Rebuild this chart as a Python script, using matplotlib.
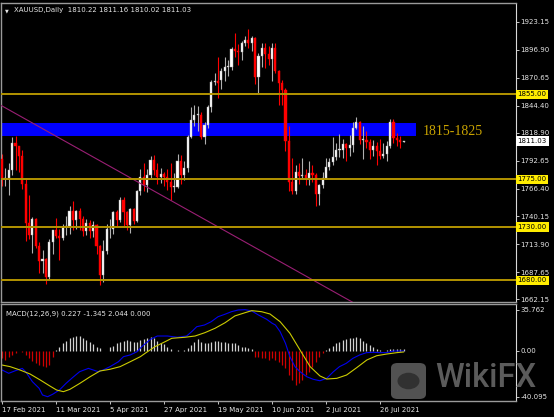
import numpy as np
import pandas as pd
import matplotlib
matplotlib.use("Agg")
import matplotlib.pyplot as plt
from matplotlib.patches import Rectangle, FancyBboxPatch, Circle
from matplotlib.transforms import blended_transform_factory

plt.rcParams["font.family"] = ["DejaVu Sans"]
plt.rcParams["font.size"] = 5

# ---- data ---------------------------------------------------------------
# daily XAUUSD candles, 17 Feb 2021 .. 4 Aug 2021 (Good Friday missing)
dates = pd.bdate_range("2021-02-17", "2021-08-04")
dates = dates[dates != pd.Timestamp("2021-04-02")]

opens = [1794, 1775, 1776, 1784, 1809, 1806, 1797, 1771,
         1734, 1723, 1738, 1712, 1698, 1700, 1683, 1716, 1727, 1722, 1720, 1730,
         1731, 1745, 1737, 1745, 1738, 1726, 1734, 1726, 1732, 1712, 1685,
         1708, 1728, 1728, 1744, 1737, 1756, 1744, 1732, 1747, 1736, 1764, 1777,
         1770, 1779, 1793, 1784, 1777, 1780, 1777, 1773, 1768,
         1768, 1792, 1779, 1786, 1815, 1831, 1836, 1836, 1815, 1826, 1843, 1867,
         1868, 1869, 1877, 1881, 1881, 1898, 1896, 1895, 1903,
         1906, 1903, 1908, 1871, 1891, 1899, 1893, 1888, 1899, 1877, 1866, 1859,
         1811, 1773, 1764, 1782, 1778, 1779, 1776, 1781, 1779, 1761,
         1770, 1776, 1787, 1791, 1796, 1803, 1803, 1808, 1805, 1807, 1823, 1829,
         1812, 1812, 1810, 1803, 1806, 1802, 1797, 1799, 1806, 1829,
         1814, 1812, 1810.22]
highs = [1799, 1786, 1790, 1815, 1816, 1806, 1803, 1776,
         1760, 1740, 1739, 1716, 1709, 1701, 1719, 1725, 1739, 1728, 1733, 1741,
         1750, 1755, 1746, 1748, 1741, 1738, 1737, 1736, 1733, 1713, 1718,
         1733, 1738, 1745, 1746, 1758, 1758, 1745, 1748, 1748, 1765, 1785,
         1790, 1785, 1797, 1798, 1790, 1786, 1782, 1785, 1790, 1781,
         1799, 1798, 1792, 1817, 1843, 1845, 1844, 1838, 1829, 1845, 1869, 1875,
         1890, 1880, 1890, 1887, 1900, 1913, 1902, 1905, 1910,
         1917, 1910, 1909, 1894, 1903, 1903, 1901, 1903, 1903, 1878, 1869, 1861,
         1825, 1795, 1789, 1790, 1795, 1785, 1792, 1789, 1781, 1771,
         1782, 1795, 1795, 1815, 1809, 1818, 1813, 1809, 1817, 1829, 1834, 1830,
         1825, 1821, 1813, 1812, 1810, 1813, 1809, 1811, 1832, 1832,
         1819, 1816, 1811.16]
lows = [1769, 1769, 1760, 1779, 1784, 1782, 1766, 1717,
        1719, 1706, 1710, 1687, 1687, 1677, 1681, 1705, 1720, 1699, 1718, 1723,
        1724, 1727, 1728, 1727, 1722, 1723, 1720, 1721, 1705, 1676, 1678,
        1705, 1720, 1724, 1731, 1735, 1731, 1727, 1725, 1733, 1735, 1760,
        1764, 1763, 1775, 1779, 1771, 1772, 1769, 1765, 1756, 1763,
        1767, 1771, 1774, 1782, 1814, 1825, 1821, 1813, 1808, 1823, 1838, 1864,
        1852, 1860, 1868, 1872, 1878, 1890, 1883, 1887, 1901,
        1899, 1896, 1865, 1855, 1881, 1880, 1883, 1868, 1875, 1845, 1845, 1802,
        1764, 1761, 1761, 1771, 1775, 1770, 1770, 1773, 1750, 1751,
        1767, 1775, 1784, 1789, 1793, 1796, 1795, 1792, 1797, 1801, 1822, 1808,
        1794, 1805, 1794, 1797, 1789, 1794, 1795, 1792, 1805, 1809,
        1806, 1805, 1810.02]
closes = [1775, 1776, 1784, 1809, 1806, 1797, 1771, 1734,
          1723, 1738, 1712, 1698, 1700, 1683, 1716, 1727, 1722, 1720, 1730, 1731,
          1745, 1737, 1745, 1738, 1726, 1734, 1726, 1732, 1712, 1685, 1708,
          1728, 1728, 1744, 1737, 1756, 1744, 1732, 1747, 1736, 1764, 1777,
          1770, 1779, 1793, 1784, 1777, 1780, 1777, 1773, 1768, 1768,
          1792, 1779, 1786, 1815, 1831, 1836, 1836, 1815, 1826, 1843, 1867, 1868,
          1866, 1877, 1881, 1881, 1898, 1896, 1895, 1903, 1906,
          1903, 1908, 1871, 1891, 1899, 1893, 1888, 1899, 1877, 1866, 1859, 1811,
          1773, 1764, 1782, 1778, 1779, 1776, 1781, 1779, 1761, 1770,
          1776, 1787, 1791, 1796, 1803, 1803, 1808, 1805, 1807, 1823, 1829, 1812,
          1812, 1810, 1803, 1806, 1802, 1797, 1799, 1806, 1829, 1814,
          1812, 1810, 1811.03]

levels = [1855, 1775, 1730, 1680]
zone = [1816, 1828]
zone_label = "1815-1825"
last_price = 1811.03
trend_idx = [0, 103.6]
trend_price = [1844.1, 1659.9]

price_ticks = [1923.15, 1896.90, 1870.65, 1844.40, 1818.90, 1792.65,
               1766.40, 1740.15, 1713.90, 1687.65, 1662.15]
date_labels = ["17 Feb 2021", "11 Mar 2021", "5 Apr 2021", "27 Apr 2021",
               "19 May 2021", "10 Jun 2021", "2 Jul 2021", "26 Jul 2021"]

# MACD panel
macd_idx = [0, 2, 4, 6, 7, 9, 11, 12, 13.5, 15, 17, 19, 21, 23, 25.6, 27, 28.5,
            30, 32, 34.5, 36, 38, 40, 41.4, 44, 46, 49, 52, 54.7, 56.2, 57.7, 60,
            62, 64, 66, 68, 70, 72, 74, 76, 78.4, 80, 81, 82.4, 84, 85.3, 86.8,
            88.3, 90.3, 92.2, 94.2, 96.2, 98.2, 100, 102, 104, 106, 108, 110, 112,
            114, 116, 119]
macd_val = [-16.8, -19.7, -17.4, -15.4, -18.3, -27.0, -32.8, -38.6, -40.1, -38.0,
            -34.3, -28.4, -23.2, -18.3, -15.4, -16.8, -18.3, -16.8, -13.9, -9.6,
            -5.2, -3.7, -0.9, 3.5, 9.9, 12.8, 12.8, 11.7, 12.8, 16.6, 20.9, 22.4,
            25.3, 29.6, 31.7, 34.0, 35.5, 35.76, 34.6, 31.1, 27.4, 24.0, 22.4, 16.6,
            6.4, -5.2, -13.9, -18.3, -22.7, -24.9, -26.2, -24.1, -18.3, -13.9,
            -11.0, -6.6, -3.7, -1.7, -1.4, -1.7, -1.7, -0.3, -0.3]
signal_idx = [0, 2.4, 5.3, 8.3, 11.3, 14.2, 16.2, 18.2, 20.1, 23.1, 26.1, 29, 32,
              35, 38, 41, 42.4, 45.3, 48.3, 50.3, 54.2, 57.2, 60.1, 63.1, 66.1, 69,
              72, 74, 76.9, 79.4, 82.4, 85.3, 88.3, 91.3, 94.2, 96.2, 99.2, 102.1,
              105.1, 108.1, 111, 114, 117, 119]
signal_val = [-12.5, -13.9, -16.8, -20.3, -25.5, -30.8, -34.3, -35.7, -33.7,
              -28.4, -22.7, -17.7, -16.2, -13.9, -9.6, -5.2, -2.3, 3.5, 7.8, 10.8,
              11.7, 12.8, 15.7, 19.5, 24.4, 30.3, 33.1, 34.9, 34.0, 32.0, 25.3,
              15.2, 0.6, -13.9, -22.0, -24.7, -24.1, -21.2, -14.8, -8.1, -4.4,
              -2.9, -1.7, -1.1]
hist = [-6.6, -8.1, -5.8, -3.7, -2.3, -0.3, -1.5, -3.7, -6.6, -8.7,
        -10.5, -12.5, -13.4, -14.0, -12.5, -5.2, 0.3, 3.5, 7.0, 8.7,
        10.8, 12.2, 12.8, 12.8, 10.8, 9.3, 7.8, 5.8, 3.5, 2.1,
        -0.3, -0.5, 3.0, 4.5, 6.5, 7.5, 8.5, 9.0, 8.5, 8.0,
        8.0, 9.0, 9.9, 10.8, 11.7, 10.8, 8.5, 7.0, 5.6, 3.5,
        1.2, -0.3, 0.2, -0.4, 0.3, 2.1, 5.0, 7.8, 9.9, 7.8,
        6.4, 6.4, 7.8, 8.5, 8.5, 7.8, 7.8, 7.0, 7.0, 6.4,
        5.0, 3.5, 2.8, 2.1, 1.2, -5.2, -5.8, -6.6, -6.6, -8.1,
        -6.6, -8.1, -9.6, -12.5, -15.4, -21.2, -25.5, -29.9, -28.4, -25.5,
        -21.2, -18.3, -14.0, -9.6, -5.8, -2.3, 0.2, 2.1, 4.1, 6.4,
        7.8, 9.3, 9.9, 10.8, 10.8, 11.7, 10.8, 8.7, 7.0, 5.0,
        3.5, 1.2, 0.2, -0.5, 0.3, 1.2, 1.5, 1.5, 1.5, 1.2]
macd_title = "MACD(12,26,9) 0.227 -1.345 2.044 0.000"
macd_ticks = [35.762, 0.0, -40.095]
macd_ticklabels = ["35.762", "0.00", "-40.095"]

# ---- figure ---------------------------------------------------------------
W, H = 554, 417
fig = plt.figure(figsize=(W / 100, H / 100), dpi=100, facecolor="black")
ax = fig.add_axes([1 / W, (H - 302) / H, 515 / W, 299 / H], facecolor="black")
axm = fig.add_axes([1 / W, (H - 401) / H, 515 / W, 97 / H], facecolor="black")

x = np.arange(len(closes))
o, h, l, c = map(np.array, (opens, highs, lows, closes))
up = c >= o
grey = "#b0b0b0"
red = "#ff0000"

# resistance zone behind the candles
ax.add_patch(Rectangle((-2, zone[0]), 124.8, zone[1] - zone[0],
                       facecolor="#0000ff", edgecolor="none", zorder=1))

ax.vlines(x[up], l[up], h[up], color=grey, lw=0.8, zorder=2)
ax.vlines(x[~up], l[~up], h[~up], color=red, lw=0.8, zorder=2)
body_h = np.maximum(np.abs(c - o), 0.6)
ax.bar(x[up], body_h[up], bottom=np.minimum(o, c)[up], width=0.62,
       color="white", edgecolor=grey, lw=0.3, zorder=3)
ax.bar(x[~up], body_h[~up], bottom=np.minimum(o, c)[~up], width=0.62,
       color=red, edgecolor=red, lw=0.3, zorder=3)

ax.axline((trend_idx[0], trend_price[0]), (trend_idx[1], trend_price[1]),
          color="#9a1f74", lw=0.8, zorder=4)
for lv in levels:
    ax.axhline(lv, color="#b39400", lw=1.4, zorder=4)

ax.text(124.8, 1820.5, zone_label, color="#c9a300", fontsize=10,
        family="Liberation Serif", va="center", ha="left", zorder=5)

ax.set_xlim(-0.3, 152.3)
ax.set_ylim(1659.6, 1941.0)
axm.set_xlim(-0.3, 152.3)
axm.set_ylim(-43.85, 40.7)

# right price axis
for a in (ax, axm):
    a.yaxis.tick_right()
    a.tick_params(axis="y", colors="#e6e6e6", length=2.2, width=0.6, pad=1,
                  labelsize=5)
    for s in ("top", "left", "bottom"):
        a.spines[s].set_color("#9a9a9a")
        a.spines[s].set_linewidth(1.0)
    a.spines["right"].set_color("#d8d8d8")
    a.spines["right"].set_linewidth(0.8)
ax.set_yticks(price_ticks)
ax.set_yticklabels([f"{t:.2f}" for t in price_ticks])
ax.set_xticks([])
axm.set_yticks(macd_ticks)
axm.set_yticklabels(macd_ticklabels)

# date axis
tick_pos = [int(np.where(dates == pd.Timestamp(d))[0][0]) for d in date_labels]
axm.set_xticks(tick_pos)
axm.set_xticklabels(date_labels)
axm.tick_params(axis="x", colors="#e6e6e6", length=2.5, width=0.6, pad=2,
                labelsize=5)
for lab in axm.get_xticklabels():
    lab.set_ha("left")

# price boxes on the right axis
tr = blended_transform_factory(ax.transAxes, ax.transData)
for lv in levels:
    ax.text(1.003, lv, f"{lv:.2f}", transform=tr, fontsize=5, color="black",
            va="center", ha="left", clip_on=False, zorder=6,
            bbox=dict(boxstyle="square,pad=0.25", facecolor="#ffec00",
                      edgecolor="none"))
ax.text(1.003, last_price, f"{last_price:.2f}", transform=tr, fontsize=5,
        color="black", va="center", ha="left", clip_on=False, zorder=6,
        bbox=dict(boxstyle="square,pad=0.25", facecolor="white",
                  edgecolor="none"))

ax.text(0.008, 0.975, "\u25bc", transform=ax.transAxes, color="#e6e6e6",
        fontsize=3.5, va="center", ha="left")
ax.text(0.025, 0.975, f"XAUUSD,Daily  {opens[-1]:.2f} {highs[-1]:.2f} "
        f"{lows[-1]:.2f} {closes[-1]:.2f}", transform=ax.transAxes,
        color="#e6e6e6", fontsize=5, va="center", ha="left")

# MACD panel
hv = np.array(hist)
axm.vlines(x[hv >= 0], 0, hv[hv >= 0], color="#d2d2d2", lw=0.9)
axm.vlines(x[hv < 0], 0, hv[hv < 0], color="#d00000", lw=0.9)
axm.plot(macd_idx, macd_val, color="#0000ee", lw=0.8)
axm.plot(signal_idx, signal_val, color="#cccc00", lw=0.8)
axm.text(0.01, 0.9, macd_title, transform=axm.transAxes, color="#e6e6e6",
         fontsize=5, va="center", ha="left")

# WikiFX watermark
fig.patches.append(FancyBboxPatch((391 / W, 1 - 399 / H), 35 / W, 36 / H,
                                  boxstyle="round,pad=0,rounding_size=0.012",
                                  transform=fig.transFigure, facecolor="#5c5c5c",
                                  edgecolor="none", alpha=0.9))
fig.patches.append(Circle((408.5 / W, 1 - 381 / H), 11 / W,
                          transform=fig.transFigure, facecolor="#2e2e2e",
                          edgecolor="none", alpha=0.9))
fig.text(435 / W, 1 - 387 / H, "WikiFX", color="#616161", fontsize=23.5,
         family="Roboto", weight="medium", va="baseline", ha="left", alpha=0.95)

fig.savefig("out.png", dpi=100, facecolor="black")
